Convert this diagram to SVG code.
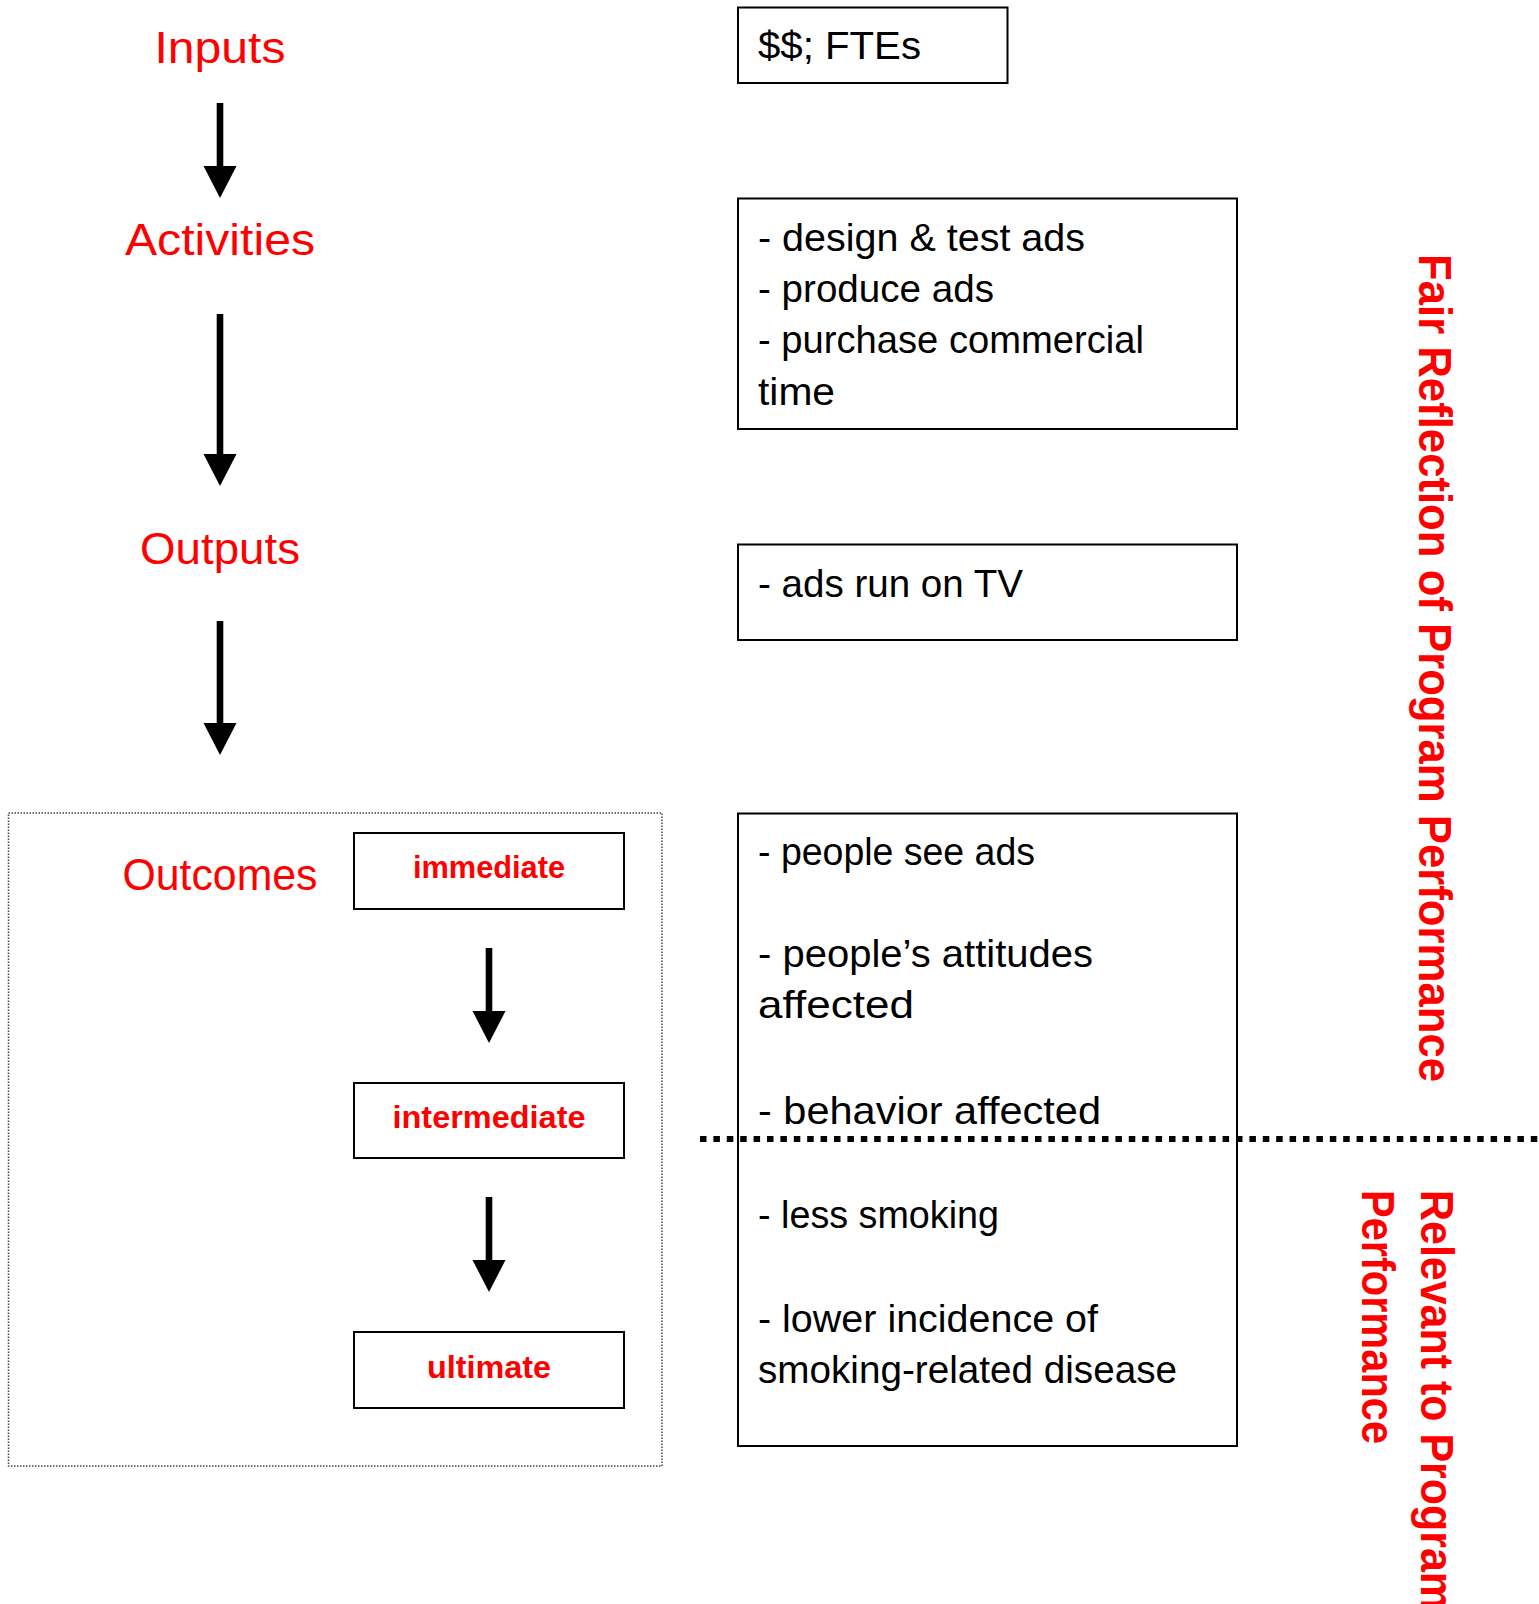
<svg xmlns="http://www.w3.org/2000/svg" width="1539" height="1604" viewBox="0 0 1539 1604">
<style>
  .lbl { font-family: "Liberation Sans", Arial, sans-serif; font-size: 44px; fill: #FF0000; text-anchor: middle; }
  .blbl { font-family: "Liberation Sans", Arial, sans-serif; font-size: 31px; font-weight: bold; fill: #FF0000; text-anchor: middle; }
  .side { font-family: "Liberation Sans", Arial, sans-serif; font-size: 46px; font-weight: bold; fill: #FF0000; }
  .body { font-family: "Liberation Sans", Arial, sans-serif; font-size: 39px; fill: #000; }
  .box { fill: #fff; stroke: #000; stroke-width: 2; }
  .arrow { fill: #000; stroke: none; }
</style>
<rect width="1539" height="1604" fill="#fff"/>

<g id="outcomes-frame">
  <rect x="8.5" y="813" width="653.5" height="653" fill="none" stroke="#444" stroke-width="1.5" stroke-dasharray="1.5 1.5"/>
</g>

<g id="inputs-label"><text class="lbl" x="220" y="63" textLength="131" lengthAdjust="spacingAndGlyphs">Inputs</text></g>
<g id="activities-label"><text class="lbl" x="220" y="255" textLength="190" lengthAdjust="spacingAndGlyphs">Activities</text></g>
<g id="outputs-label"><text class="lbl" x="220" y="564" textLength="160" lengthAdjust="spacingAndGlyphs">Outputs</text></g>
<g id="outcomes-label"><text class="lbl" x="220" y="890" textLength="195" lengthAdjust="spacingAndGlyphs">Outcomes</text></g>

<g id="immediate">
  <rect class="box" x="354" y="833" width="270" height="76"/>
  <text class="blbl" x="489" y="878" textLength="152" lengthAdjust="spacingAndGlyphs">immediate</text>
</g>
<g id="intermediate">
  <rect class="box" x="354" y="1083" width="270" height="75"/>
  <text class="blbl" x="489" y="1128" textLength="193" lengthAdjust="spacingAndGlyphs">intermediate</text>
</g>
<g id="ultimate">
  <rect class="box" x="354" y="1332" width="270" height="76"/>
  <text class="blbl" x="489" y="1378" textLength="124" lengthAdjust="spacingAndGlyphs">ultimate</text>
</g>

<g id="inputs-box">
  <rect class="box" x="738" y="7.5" width="269.5" height="75.5" stroke-width="1.8"/>
  <text class="body" x="758" y="59" textLength="163" lengthAdjust="spacingAndGlyphs">$$; FTEs</text>
</g>
<g id="activities-box">
  <rect class="box" x="738" y="198.5" width="499" height="230.5" stroke-width="1.8"/>
  <text class="body" x="758" y="251" textLength="327" lengthAdjust="spacingAndGlyphs">- design &amp; test ads</text>
  <text class="body" x="758" y="302" textLength="236" lengthAdjust="spacingAndGlyphs">- produce ads</text>
  <text class="body" x="758" y="353" textLength="386" lengthAdjust="spacingAndGlyphs">- purchase commercial</text>
  <text class="body" x="758" y="405" textLength="77" lengthAdjust="spacingAndGlyphs">time</text>
</g>
<g id="outputs-box">
  <rect class="box" x="738" y="544.5" width="499" height="95.5" stroke-width="1.8"/>
  <text class="body" x="758" y="597" textLength="265" lengthAdjust="spacingAndGlyphs">- ads run on TV</text>
</g>
<g id="outcomes-box">
  <rect class="box" x="738" y="813.5" width="499" height="632.5" stroke-width="1.8"/>
  <text class="body" x="758" y="865" textLength="277" lengthAdjust="spacingAndGlyphs">- people see ads</text>
  <text class="body" x="758" y="967" textLength="335" lengthAdjust="spacingAndGlyphs">- people’s attitudes</text>
  <text class="body" x="758" y="1018" textLength="156" lengthAdjust="spacingAndGlyphs">affected</text>
  <text class="body" x="758" y="1124" textLength="343" lengthAdjust="spacingAndGlyphs">- behavior affected</text>
  <text class="body" x="758" y="1228" textLength="241" lengthAdjust="spacingAndGlyphs">- less smoking</text>
  <text class="body" x="758" y="1332" textLength="340" lengthAdjust="spacingAndGlyphs">- lower incidence of</text>
  <text class="body" x="758" y="1383" textLength="419" lengthAdjust="spacingAndGlyphs">smoking-related disease</text>
</g>

<g id="connectors">
  <g id="arrow-inputs-activities">
    <rect class="arrow" x="216.7" y="103" width="6.6" height="64"/>
    <polygon class="arrow" points="203.5,166 236.5,166 220,198"/>
  </g>
  <g id="arrow-activities-outputs">
    <rect class="arrow" x="216.7" y="314" width="6.6" height="141"/>
    <polygon class="arrow" points="203.5,454 236.5,454 220,486"/>
  </g>
  <g id="arrow-outputs-outcomes">
    <rect class="arrow" x="216.7" y="621" width="6.6" height="103"/>
    <polygon class="arrow" points="203.5,723 236.5,723 220,755"/>
  </g>
  <g id="arrow-immediate-intermediate">
    <rect class="arrow" x="485.7" y="948" width="6.6" height="64"/>
    <polygon class="arrow" points="472.5,1011 505.5,1011 489,1043"/>
  </g>
  <g id="arrow-intermediate-ultimate">
    <rect class="arrow" x="485.7" y="1197" width="6.6" height="64"/>
    <polygon class="arrow" points="472.5,1260 505.5,1260 489,1292"/>
  </g>
  <line id="divider" x1="700" y1="1139" x2="1539" y2="1139" stroke="#000" stroke-width="6" stroke-dasharray="6.5 6.9"/>
</g>

<g id="side-labels">
  <text class="side" transform="translate(1419,254) rotate(90)" x="0" y="0" textLength="828" lengthAdjust="spacingAndGlyphs">Fair Reflection of Program Performance</text>
  <text class="side" transform="translate(1421,1190) rotate(90)" x="0" y="0" textLength="420" lengthAdjust="spacingAndGlyphs">Relevant to Program</text>
  <text class="side" transform="translate(1362,1190) rotate(90)" x="0" y="0" textLength="254" lengthAdjust="spacingAndGlyphs">Performance</text>
</g>
</svg>
